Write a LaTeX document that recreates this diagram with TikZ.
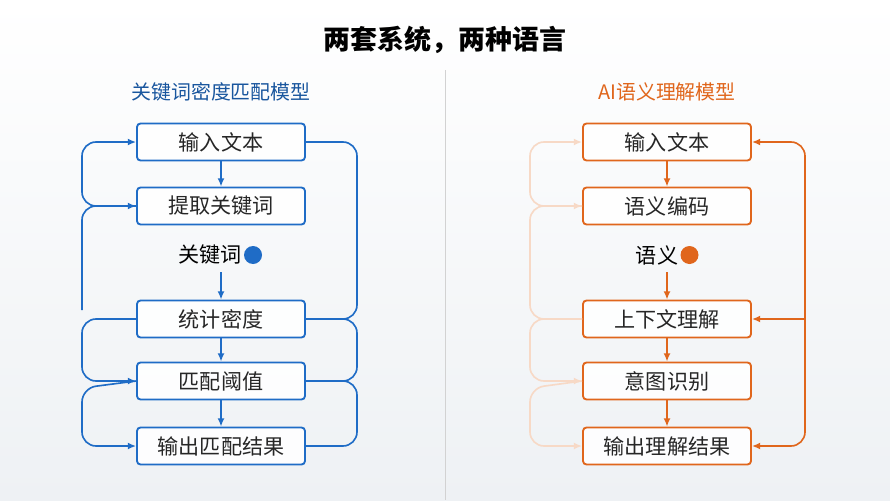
\documentclass[tikz,border=0pt]{standalone}
\usepackage{fontspec}
\setmainfont{Noto Sans CJK SC}
\usetikzlibrary{positioning,arrows.meta}
\definecolor{kwblue}{HTML}{1F6CC6}
\definecolor{aiorange}{HTML}{E0661C}
\definecolor{bggray}{HTML}{EEF1F4}
\tikzset{
	step/.style={draw=#1, line width=1.6pt, fill=white, fill opacity=0.9, text opacity=1, rounded corners=3pt,
		minimum width=5.04cm, minimum height=1.11cm, text=black!85, font=\fontsize{18}{20}\selectfont},
	link/.style={#1, line width=1.4pt, rounded corners=12pt, -{Latex[length=7pt,width=6pt]}},
	wire/.style={#1, line width=1.4pt, rounded corners=12pt},
}
\begin{document}
\begin{tikzpicture}[x=0.03cm,y=-0.03cm]
	\useasboundingbox (0,0) rectangle (890,500);
	\shade[top color=white, bottom color=bggray] (0,0) rectangle (890,500);
	\draw[gray!35, line width=0.8pt] (445,70) -- (445,500);

	\node[font=\fontsize{23}{25}\selectfont\bfseries] (title) at (445,40) {两套系统，两种语言};
	\node[font=\fontsize{17}{19}\selectfont, text=kwblue!80!black] (kwhead) at (221,92) {关键词密度匹配模型};
	\node[font=\fontsize{17}{19}\selectfont, text=aiorange] (aihead) at (667,92) {AI语义理解模型};

	% left column
	\node[step=kwblue] (kin) at (221,142) {输入文本};
	\node[step=kwblue] (kext) at (221,206) {提取关键词};
	\node[font=\fontsize{18}{20}\selectfont, inner sep=1pt] (kword) at (210,255) {关键词};
	\fill[kwblue] (kword.east) ++(10,0) circle [radius=9];
	\node[step=kwblue] (kcnt) at (221,319) {统计密度};
	\node[step=kwblue] (kmat) at (221,381) {匹配阈值};
	\node[step=kwblue] (kout) at (221,446) {输出匹配结果};

	\draw[link=kwblue] (kin) -- (kext);
	\draw[link=kwblue] (221,272) -- (kcnt);
	\draw[link=kwblue] (kcnt) -- (kmat);
	\draw[link=kwblue] (kmat) -- (kout);

	\draw[link=kwblue] (kext.west) -- (82,206) -- (82,142) -- (kin.west);
	\draw[link=kwblue] (82,310) -- (82,206) -- (kext.west);
	\draw[link=kwblue] (kcnt.west) -- (82,319) -- (82,381) -- (kmat.west);
	\draw[link=kwblue] (kmat.west) -- (82,388) -- (82,446) -- (kout.west);
	\draw[wire=kwblue] (kin.east) -- (357,142) -- (357,319) -- (kcnt.east);
	\draw[wire=kwblue] (kcnt.east) -- (357,319) -- (357,381) -- (kmat.east);
	\draw[wire=kwblue] (kmat.east) -- (357,381) -- (357,446) -- (kout.east);

	% right column
	\node[step=aiorange] (ain) at (667,142) {输入文本};
	\node[step=aiorange] (aenc) at (667,206) {语义编码};
	\node[font=\fontsize{18}{20}\selectfont, inner sep=1pt] (asem) at (657,255) {语义};
	\fill[aiorange] (asem.east) ++(10,0) circle [radius=9];
	\node[step=aiorange] (actx) at (667,319) {上下文理解};
	\node[step=aiorange] (aint) at (667,381) {意图识别};
	\node[step=aiorange] (aout) at (667,446) {输出理解结果};

	\draw[link=aiorange] (ain) -- (aenc);
	\draw[link=aiorange] (667,272) -- (actx);
	\draw[link=aiorange] (actx) -- (aint);
	\draw[link=aiorange] (aint) -- (aout);

	\coordinate (ajoin) at (805,319);
	\draw[link=aiorange] (ajoin) -- (805,142) -- (ain.east);
	\draw[link=aiorange] (ajoin) -- (805,446) -- (aout.east);
	\draw[link=aiorange] (ajoin) -- (actx.east);

	\draw[link=aiorange!25] (aenc.west) -- (530,206) -- (530,142) -- (ain.west);
	\draw[link=aiorange!25] (actx.west) -- (530,319) -- (530,206) -- (aenc.west);
	\draw[link=aiorange!25] (actx.west) -- (530,319) -- (530,381) -- (aint.west);
	\draw[link=aiorange!25] (aint.west) -- (530,388) -- (530,446) -- (aout.west);
\end{tikzpicture}
\end{document}
